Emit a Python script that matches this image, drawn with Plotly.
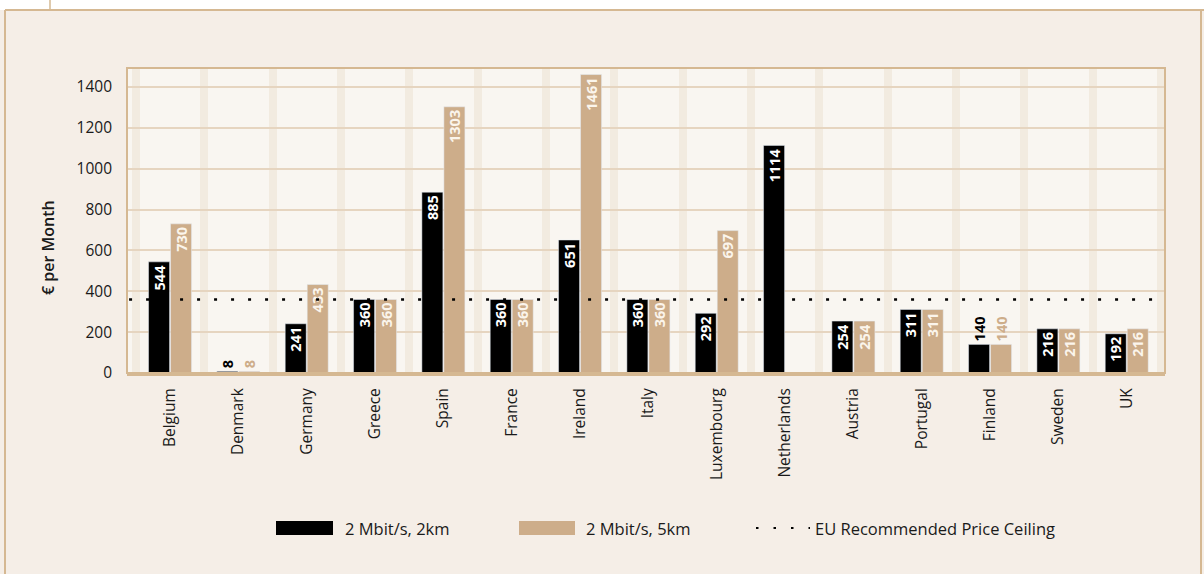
import plotly.graph_objects as go

# Monthly leased-line prices by country (EUR per month)
countries = ["Belgium", "Denmark", "Germany", "Greece", "Spain", "France", "Ireland",
             "Italy", "Luxembourg", "Netherlands", "Austria", "Portugal", "Finland",
             "Sweden", "UK"]
price_2km = [544, 8, 241, 360, 885, 360, 651, 360, 292, 1114, 254, 311, 140, 216, 192]
price_5km = [730, 8, 433, 360, 1303, 360, 1461, 360, 697, None, 254, 311, 140, 216, 216]
series_names = ["2 Mbit/s, 2km", "2 Mbit/s, 5km", "EU Recommended Price Ceiling"]
y_title = "€ per Month"
eu_ceiling = 360
y_ticks = [0, 200, 400, 600, 800, 1000, 1200, 1400]

BLACK = "#000000"
TAN = "#CDAD8A"
PANEL = "#F5EEE7"
PLOT_BG = "#F9F6F1"
STRIPE = "#F2EBE0"
GRID = "#E6D5C0"
BORDER = "#D5B892"
FONT = "Open Sans"
INK = "#1A1A1A"
LABEL_SIZE = 14.5

# labels that don't fit inside a short bar sit above it
small = {"Denmark", "Finland"}
pos_2km = ["outside" if c in small else "inside" for c in countries]
pos_5km = ["outside" if c in small else "inside" for c in countries]

fig = go.Figure()
fig.add_trace(go.Bar(
    x=countries, y=price_2km, name=series_names[0], marker_color=BLACK,
    text=[str(v) for v in price_2km], textposition=pos_2km, textangle=-90,
    insidetextanchor="end", constraintext="none",
    insidetextfont=dict(family=FONT, size=LABEL_SIZE, color="#FFFFFF", weight="bold"),
    outsidetextfont=dict(family=FONT, size=LABEL_SIZE, color=BLACK, weight="bold"),
    cliponaxis=False, showlegend=False,
))
fig.add_trace(go.Bar(
    x=countries, y=price_5km, name=series_names[1], marker_color=TAN,
    text=[str(v) if v is not None else "" for v in price_5km],
    textposition=pos_5km, textangle=-90, insidetextanchor="end",
    constraintext="none",
    insidetextfont=dict(family=FONT, size=LABEL_SIZE, color="#FBF5EC", weight="bold"),
    outsidetextfont=dict(family=FONT, size=LABEL_SIZE, color=TAN, weight="bold"),
    cliponaxis=False, showlegend=False,
))

L, R, T, B = 127, 39, 68, 201
W, H = 1204, 574
pw, ph = W - L - R, H - T - B


def px(x):
    return (x - L) / pw


def py(y):
    return (H - B - y) / ph


shapes = [
    # white strip across the very top of the page
    dict(type="rect", xref="paper", yref="paper", x0=px(-5), x1=px(1210),
         y0=py(10), y1=py(-5), fillcolor="#FFFFFF", line_width=0, layer="below"),
    # page frame
    dict(type="line", xref="paper", yref="paper", x0=px(5), x1=px(1210),
         y0=py(10), y1=py(10), line=dict(color=BORDER, width=2)),
    dict(type="line", xref="paper", yref="paper", x0=px(5), x1=px(5),
         y0=py(10), y1=py(580), line=dict(color=BORDER, width=2)),
    dict(type="line", xref="paper", yref="paper", x0=px(1201), x1=px(1201),
         y0=py(10), y1=py(580), line=dict(color=BORDER, width=2)),
    dict(type="line", xref="paper", yref="paper", x0=px(50), x1=px(50),
         y0=py(0), y1=py(10), line=dict(color=BORDER, width=1.5)),
    # EU price ceiling
    dict(type="line", xref="paper", yref="y", x0=0.002, x1=0.997,
         y0=eu_ceiling, y1=eu_ceiling,
         line=dict(color=BLACK, width=2.5, dash="3px,14px"), layer="above"),
    # plot frame
    dict(type="rect", xref="paper", yref="paper", x0=0, x1=1, y0=0, y1=1,
         line=dict(color=BORDER, width=2), layer="above"),
]

# hand-drawn legend
leg_y = py(528)
shapes += [
    dict(type="rect", xref="paper", yref="paper", x0=px(276), x1=px(333),
         y0=py(535), y1=py(521), fillcolor=BLACK, line_width=0),
    dict(type="rect", xref="paper", yref="paper", x0=px(519), x1=px(575),
         y0=py(535), y1=py(521), fillcolor=TAN, line_width=0),
    dict(type="line", xref="paper", yref="paper", x0=px(756), x1=px(810),
         y0=leg_y, y1=leg_y, line=dict(color=BLACK, width=2, dash="2.5px,15px")),
]
annotations = [
    dict(xref="paper", yref="paper", x=px(x0), y=leg_y, text=t, showarrow=False,
         xanchor="left", yanchor="middle",
         font=dict(family=FONT, size=16.5, color=INK))
    for x0, t in zip([343, 584, 813], series_names)
]
# y-axis title, sitting a little below the middle of the axis
annotations.append(dict(
    xref="paper", yref="paper", x=px(48), y=py(248), text=y_title,
    showarrow=False, textangle=-90, xanchor="center", yanchor="middle",
    font=dict(family=FONT, size=16, color=INK, weight=600),
))

fig.update_layout(
    width=W, height=H,
    margin=dict(l=L, r=R, t=T, b=B, autoexpand=False),
    paper_bgcolor=PANEL, plot_bgcolor=PLOT_BG,
    barmode="group", bargap=0.356, bargroupgap=0.045,
    shapes=shapes, annotations=annotations,
    font=dict(family=FONT, color=INK),
    xaxis=dict(
        type="category", range=[-0.63, 14.56], tickson="boundaries",
        showgrid=True, gridcolor=STRIPE, gridwidth=8,
        tickangle=-90, ticks="", ticklabelstandoff=6,
        tickfont=dict(family=FONT, size=15.5, color=INK),
        showline=True, linecolor=BORDER, linewidth=3, zeroline=False,
        fixedrange=True,
    ),
    yaxis=dict(
        range=[0, 1493], tickvals=y_ticks, showgrid=True, gridcolor=GRID,
        gridwidth=1.5, zeroline=False, ticks="", ticklabelstandoff=14,
        tickfont=dict(family=FONT, size=15.5, color=INK),
        fixedrange=True,
    ),
)

fig.write_html("out.html")
